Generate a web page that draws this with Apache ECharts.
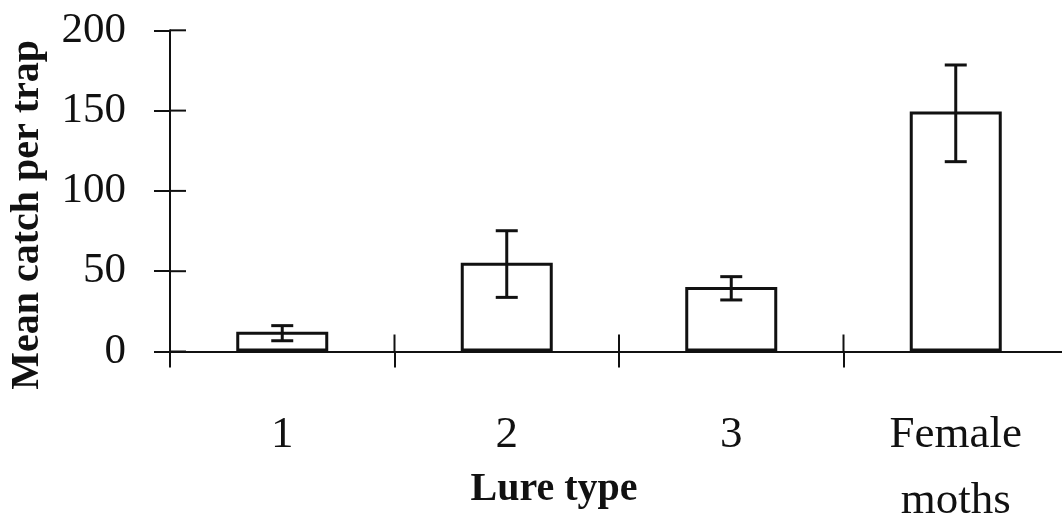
<!DOCTYPE html>
<html>
<head>
<meta charset="utf-8">
<script src="https://cdn.jsdelivr.net/npm/echarts@6/dist/echarts.min.js"></script>
<style>
html,body{margin:0;padding:0;background:#fff;}
#chart{width:1062px;height:513px;}
</style>
</head>
<body>
<div id="chart"></div>
<script>
var categories = ['1', '2', '3', 'Female\nmoths'];
var meanCatch = [12.3, 55.2, 40.2, 149.5];
var errHigh = [16.1, 75.2, 46.6, 178.4];
var errLow = [6.7, 33.7, 32.1, 118.2];
var yTicks = [0, 50, 100, 150, 200];

var INK = '#111';
var FONT = "'Liberation Serif', 'Times New Roman', 'DejaVu Serif', serif";

var errData = categories.map(function (c, i) { return [i, errLow[i], errHigh[i]]; });
// inner halves of the crossing ticks, taken from the same tick values / category boundaries
var yInnerTickData = yTicks.map(function (v) { return [0, v]; });
var xInnerTickData = categories.slice(1).map(function (c, i) { return [i, 0]; });

var chart = echarts.init(document.getElementById('chart'), null, {renderer: 'canvas'});
chart.setOption({
  backgroundColor: '#fff',
  animation: false,
  grid: {left: 170, right: -6, top: 30.3, bottom: 161.5, containLabel: false, outerBoundsMode: 'none'},
  xAxis: {
    type: 'category',
    show: true,
    position: 'bottom',
    data: categories,
    boundaryGap: true,
    axisLine: {show: true, onZero: false, lineStyle: {color: INK, width: 2}},
    axisTick: {show: true, inside: false, length: 16, lineStyle: {color: INK, width: 2}},
    axisLabel: {
      show: true, margin: 51, interval: 0,
      color: INK, fontFamily: FONT, fontSize: 45, lineHeight: 66
    },
    name: 'Lure type',
    nameLocation: 'middle',
    nameGap: 118,
    nameMoveOverlap: false,
    nameTextStyle: {
      color: INK, fontFamily: FONT, fontSize: 40, fontWeight: 'bold',
      verticalAlign: 'top', padding: [0, 130, 0, 0]
    }
  },
  yAxis: {
    type: 'value',
    show: true,
    position: 'left',
    min: yTicks[0],
    max: yTicks[yTicks.length - 1],
    interval: 50,
    splitLine: {show: false},
    axisLine: {show: true, onZero: false, lineStyle: {color: INK, width: 2}},
    axisTick: {show: true, inside: false, length: 16, lineStyle: {color: INK, width: 2}},
    axisLabel: {
      show: true, margin: 44, color: INK, fontFamily: FONT, fontSize: 43
    },
    name: 'Mean catch per trap',
    nameLocation: 'middle',
    nameGap: 122,
    nameRotate: 90,
    nameMoveOverlap: false,
    nameTextStyle: {
      color: INK, fontFamily: FONT, fontSize: 40, fontWeight: 'bold',
      padding: [0, 48, 0, 0]
    }
  },
  series: [{
    type: 'bar',
    data: meanCatch,
    barWidth: 92,
    itemStyle: {color: '#fff', borderColor: INK, borderWidth: 3},
    z: 2
  }, {
    type: 'custom',
    data: errData,
    z: 5,
    renderItem: function (params, api) {
      var x = api.value(0);
      var lo = api.coord([x, api.value(1)]);
      var hi = api.coord([x, api.value(2)]);
      var half = 11;
      var st = {stroke: INK, lineWidth: 3};
      return {
        type: 'group',
        children: [
          {type: 'line', shape: {x1: lo[0], y1: lo[1], x2: hi[0], y2: hi[1]}, style: st},
          {type: 'line', shape: {x1: hi[0] - half, y1: hi[1], x2: hi[0] + half, y2: hi[1]}, style: st},
          {type: 'line', shape: {x1: lo[0] - half, y1: lo[1], x2: lo[0] + half, y2: lo[1]}, style: st}
        ]
      };
    }
  }, {
    type: 'custom',
    data: yInnerTickData,
    z: 1,
    clip: false,
    silent: true,
    renderItem: function (params, api) {
      var p = api.coord([0, api.value(1)]);
      var x0 = params.coordSys.x;
      return {
        type: 'line',
        shape: {x1: x0, y1: p[1], x2: x0 + 16, y2: p[1]},
        style: {stroke: INK, lineWidth: 2}
      };
    }
  }, {
    type: 'custom',
    data: xInnerTickData,
    z: 1,
    clip: false,
    silent: true,
    renderItem: function (params, api) {
      var i = api.value(0);
      var a = api.coord([i, 0]);
      var b = api.coord([i + 1, 0]);
      var bx = (a[0] + b[0]) / 2;
      return {
        type: 'line',
        shape: {x1: bx, y1: a[1], x2: bx, y2: a[1] - 17},
        style: {stroke: INK, lineWidth: 2}
      };
    }
  }]
});
</script>
</body>
</html>
